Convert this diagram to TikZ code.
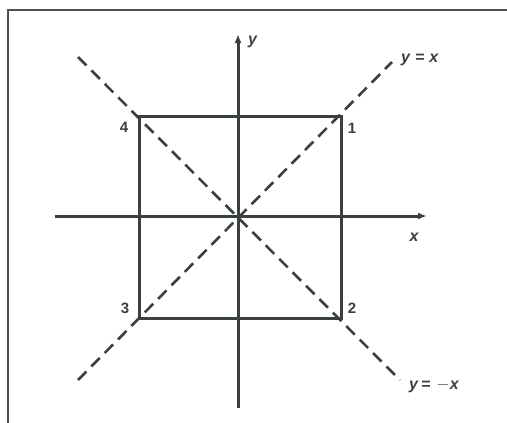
\documentclass[tikz,border=0pt]{standalone}
\usepackage{fontspec}
\setmainfont{Liberation Sans}
\usetikzlibrary{arrows.meta}
\definecolor{ink}{HTML}{3A403D}
\begin{document}
\begin{tikzpicture}[x=1pt,y=-1pt,
  solidline/.style={draw=ink,line width=3pt},
  dashline/.style={draw=ink,line width=2.6pt,dash pattern=on 12pt off 7pt},
  lab/.style={text=ink,font=\bfseries\fontsize{15}{15}\selectfont,inner sep=0pt},
  ilab/.style={text=ink,font=\bfseries\itshape\fontsize{16}{16}\selectfont,inner sep=0pt}]
\useasboundingbox (0,0) rectangle (507,423);
% frame
\draw[draw=ink!90,line width=2.2pt] (8,423) -- (8,10) -- (507,10);
% coordinates
\coordinate (O) at (238,216);
\coordinate (c1) at (341,116);
\coordinate (c2) at (341,318);
\coordinate (c3) at (139,318);
\coordinate (c4) at (139,116);
\coordinate (xl) at (55,216);
\coordinate (xr) at (427,216);
\coordinate (yb) at (238,408);
\coordinate (yt) at (238,34);
\coordinate (dA1) at (78,380);
\coordinate (dA2) at (392,62);
\coordinate (dB1) at (78,57);
\coordinate (dB2) at (400,380);
% square and axes
\draw[solidline] (c1) -- (c2) -- (c3) -- (c4) -- cycle;
\draw[solidline,-{Latex[length=9pt,width=7pt]}] (xl) -- (xr);
\draw[solidline,-{Latex[length=9pt,width=7pt]}] (yb) -- (yt);
% diagonals
\draw[dashline] (dA1) -- (dA2);
\draw[dashline] (dB1) -- (dB2);
% labels
\node[ilab,anchor=west] (ly) at (248,42) {y};
\node[ilab] (lx) at (414,237) {x};
\node[ilab,anchor=west] (lyx) at (401,60) {y\hspace{5pt}=\hspace{5pt}x};
\node[ilab,anchor=west] (lymx) at (409,386) {y\hspace{3pt}=\hspace{6pt}$-$x};
\node[lab] (n1) at (352,128) {1};
\node[lab] (n2) at (352,308) {2};
\node[lab] (n3) at (125,308) {3};
\node[lab] (n4) at (124,127) {4};
\end{tikzpicture}
\end{document}
